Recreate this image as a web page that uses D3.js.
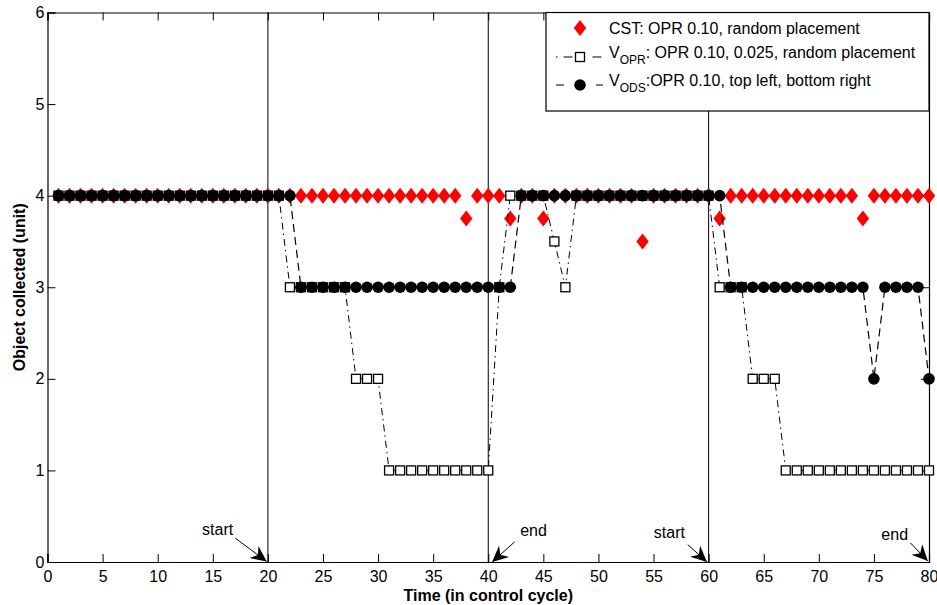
<!DOCTYPE html>
<html>
<head>
<meta charset="utf-8">
<script src="https://cdn.jsdelivr.net/npm/d3@7"></script>
<style>
  html, body { margin: 0; padding: 0; background: #fff; }
  svg { display: block; font-family: "Liberation Sans", Arial, Helvetica, sans-serif; }
</style>
</head>
<body>
<svg id="chart" width="937" height="605"></svg>
<script>
// ---------- data ----------
const cycles = [
  1,2,3,4,5,6,7,8,9,10, 11,12,13,14,15,16,17,18,19,20,
  21,22,23,24,25,26,27,28,29,30, 31,32,33,34,35,36,37,38,39,40,
  41,42,43,44,45,46,47,48,49,50, 51,52,53,54,55,56,57,58,59,60,
  61,62,63,64,65,66,67,68,69,70, 71,72,73,74,75,76,77,78,79,80
];
const cstValues = [
  4,4,4,4,4,4,4,4,4,4,
  4,4,4,4,4,4,4,4,4,4,
  4,4,4,4,4,4,4,4,4,4,
  4,4,4,4,4,4,4,3.75,4,4,
  4,3.75,4,4,3.75,4,4,4,4,4,
  4,4,4,3.5,4,4,4,4,4,4,
  3.75,4,4,4,4,4,4,4,4,4,
  4,4,4,3.75,4,4,4,4,4,4
];
const voprValues = [
  4,4,4,4,4,4,4,4,4,4,
  4,4,4,4,4,4,4,4,4,4,
  4,3,3,3,3,3,3,2,2,2,
  1,1,1,1,1,1,1,1,1,1,
  3,4,4,4,4,3.5,3,4,4,4,
  4,4,4,4,4,4,4,4,4,4,
  3,3,3,2,2,2,1,1,1,1,
  1,1,1,1,1,1,1,1,1,1
];
const vodsValues = [
  4,4,4,4,4,4,4,4,4,4,
  4,4,4,4,4,4,4,4,4,4,
  4,4,3,3,3,3,3,3,3,3,
  3,3,3,3,3,3,3,3,3,3,
  3,3,4,4,4,4,4,4,4,4,
  4,4,4,4,4,4,4,4,4,4,
  4,3,3,3,3,3,3,3,3,3,
  3,3,3,3,2,3,3,3,3,2
];
const xTicks = [0,5,10,15,20,25,30,35,40,45,50,55,60,65,70,75,80];
const yTicks = [0,1,2,3,4,5,6];
const phaseLines = [20, 40, 60];
const annotations = [
  { label: "start", tx: 16.85, ty: 0.295, anchor: "end",   from: [17.05, 0.26], to: [19.9, 0.005] },
  { label: "end",   tx: 42.9,  ty: 0.28,  anchor: "start", from: [42.4, 0.22],  to: [40.35, 0.0] },
  { label: "start", tx: 57.85, ty: 0.26,  anchor: "end",   from: [58.1, 0.19],  to: [59.85, 0.0] },
  { label: "end",   tx: 78.1,  ty: 0.245, anchor: "end",   from: [78.3, 0.21],  to: [79.9, 0.01] }
];

// ---------- layout ----------
const svg = d3.select("#chart");
const L = 47.5, R = 929, T = 12.5, B = 562;
const x = d3.scaleLinear().domain([0, 80]).range([L, R]);
const y = d3.scaleLinear().domain([0, 6]).range([B, T]);
const FONT = 16;

// phase separator lines
svg.append("g").selectAll("line").data(phaseLines).join("line")
  .attr("x1", d => x(d)).attr("x2", d => x(d))
  .attr("y1", y(0)).attr("y2", y(6))
  .attr("stroke", "#000").attr("stroke-width", 1);

// axes
const tickLen = 8;
const gx = svg.append("g").attr("transform", `translate(0,${B})`)
  .call(d3.axisBottom(x).tickValues(xTicks).tickSize(-tickLen).tickPadding(9).tickFormat(d3.format("d")));
const gy = svg.append("g").attr("transform", `translate(${L},0)`)
  .call(d3.axisLeft(y).tickValues(yTicks).tickSize(-tickLen).tickPadding(3).tickFormat(d3.format("d")));
const gxTop = svg.append("g").attr("transform", `translate(0,${T})`)
  .call(d3.axisTop(x).tickValues(xTicks).tickSize(-tickLen).tickFormat(""));
const gyRight = svg.append("g").attr("transform", `translate(${R},0)`)
  .call(d3.axisRight(y).tickValues(yTicks).tickSize(-tickLen).tickFormat(""));
[gx, gy, gxTop, gyRight].forEach(g => {
  g.select(".domain").attr("stroke", "#000").attr("stroke-width", 1.2);
  g.selectAll(".tick line").attr("stroke", "#000").attr("stroke-width", 1);
  g.selectAll(".tick text").attr("fill", "#000").attr("font-size", FONT)
   .attr("font-family", "Liberation Sans, Arial, sans-serif");
});

// axis titles
svg.append("text").attr("x", (L + R) / 2).attr("y", 600.5)
  .attr("text-anchor", "middle").attr("font-weight", "bold").attr("font-size", FONT)
  .text("Time (in control cycle)");
svg.append("text").attr("transform", `translate(25,${(T + B) / 2}) rotate(-90)`)
  .attr("text-anchor", "middle").attr("font-weight", "bold").attr("font-size", FONT)
  .text("Object collected (unit)");

// ---------- series ----------
const cst = cycles.map((c, i) => ({ c, v: cstValues[i] }));
const vopr = cycles.map((c, i) => ({ c, v: voprValues[i] }));
const vods = cycles.map((c, i) => ({ c, v: vodsValues[i] }));
const line = d3.line().x(d => x(d.c)).y(d => y(d.v));

const DASHDOT = "7,4,1.5,4";
const DASHED = "8,5";
const diamond = (cx, cy) => `M${cx},${cy - 8}L${cx + 6.2},${cy}L${cx},${cy + 8}L${cx - 6.2},${cy}Z`;

// CST diamonds
svg.append("g").selectAll("path").data(cst).join("path")
  .attr("d", d => diamond(x(d.c), y(d.v))).attr("fill", "#ff0000");

// VOPR line + squares
svg.append("path").datum(vopr).attr("d", line).attr("fill", "none")
  .attr("stroke", "#000").attr("stroke-width", 1).attr("stroke-dasharray", DASHDOT);
svg.append("g").selectAll("rect").data(vopr).join("rect")
  .attr("x", d => x(d.c) - 4.5).attr("y", d => y(d.v) - 4.5)
  .attr("width", 9).attr("height", 9)
  .attr("fill", "#fff").attr("stroke", "#000").attr("stroke-width", 1.3);

// VODS line + circles
svg.append("path").datum(vods).attr("d", line).attr("fill", "none")
  .attr("stroke", "#000").attr("stroke-width", 1.2).attr("stroke-dasharray", DASHED);
svg.append("g").selectAll("circle").data(vods).join("circle")
  .attr("cx", d => x(d.c)).attr("cy", d => y(d.v)).attr("r", 5.8).attr("fill", "#000");

// ---------- annotations ----------
function arrowHead(x1, y1, x2, y2) {
  const a = Math.atan2(y2 - y1, x2 - x1);
  const len = 16, w = 7.5, back = 5;
  const ux = Math.cos(a), uy = Math.sin(a), px = -uy, py = ux;
  const bx = x2 - ux * len, by = y2 - uy * len;
  const mx = x2 - ux * (len - back), my = y2 - uy * (len - back);
  return `M${x2},${y2}L${bx + px * w},${by + py * w}L${mx},${my}L${bx - px * w},${by - py * w}Z`;
}
const ag = svg.append("g");
annotations.forEach(a => {
  const x1 = x(a.from[0]), y1 = y(a.from[1]), x2 = x(a.to[0]), y2 = y(a.to[1]);
  ag.append("line").attr("x1", x1).attr("y1", y1).attr("x2", x2).attr("y2", y2)
    .attr("stroke", "#000").attr("stroke-width", 1);
  ag.append("path").attr("d", arrowHead(x1, y1, x2, y2)).attr("fill", "#000");
  ag.append("text").attr("x", x(a.tx)).attr("y", y(a.ty)).attr("text-anchor", a.anchor)
    .attr("font-size", FONT).text(a.label);
});

// ---------- legend ----------
const lg = svg.append("g");
lg.append("rect").attr("x", 546).attr("y", 12.5).attr("width", 383).attr("height", 98.5)
  .attr("fill", "#fff").attr("stroke", "#000").attr("stroke-width", 1.2);
const rows = [28, 57, 85];
const sx1 = 556, sx2 = 603, smid = 580, tx0 = 609;
// CST
lg.append("path").attr("d", diamond(smid, rows[0])).attr("fill", "#ff0000");
lg.append("text").attr("x", tx0).attr("y", rows[0] + 5.5).attr("font-size", FONT)
  .text("CST: OPR 0.10, random placement");
// VOPR
lg.append("line").attr("x1", sx1).attr("x2", sx2).attr("y1", rows[1]).attr("y2", rows[1])
  .attr("stroke", "#000").attr("stroke-width", 1).attr("stroke-dasharray", "1.5,6,9,20,9,6,1.5");
lg.append("rect").attr("x", smid - 4.5).attr("y", rows[1] - 4.5).attr("width", 9).attr("height", 9)
  .attr("fill", "#fff").attr("stroke", "#000").attr("stroke-width", 1.3);
const t2 = lg.append("text").attr("x", tx0).attr("y", rows[1] + 1).attr("font-size", FONT);
t2.append("tspan").text("V");
t2.append("tspan").attr("font-size", 12).attr("dy", 6).text("OPR");
t2.append("tspan").attr("dy", -6).text(": OPR 0.10, 0.025, random placement");
// VODS
lg.append("line").attr("x1", sx1).attr("x2", sx2).attr("y1", rows[2]).attr("y2", rows[2])
  .attr("stroke", "#000").attr("stroke-width", 1.2).attr("stroke-dasharray", "8,32,8");
lg.append("circle").attr("cx", smid).attr("cy", rows[2]).attr("r", 5.8).attr("fill", "#000");
const t3 = lg.append("text").attr("x", tx0).attr("y", rows[2] + 1).attr("font-size", FONT);
t3.append("tspan").text("V");
t3.append("tspan").attr("font-size", 12).attr("dy", 6).text("ODS");
t3.append("tspan").attr("dy", -6).text(":OPR 0.10, top left, bottom right");
</script>
</body>
</html>
